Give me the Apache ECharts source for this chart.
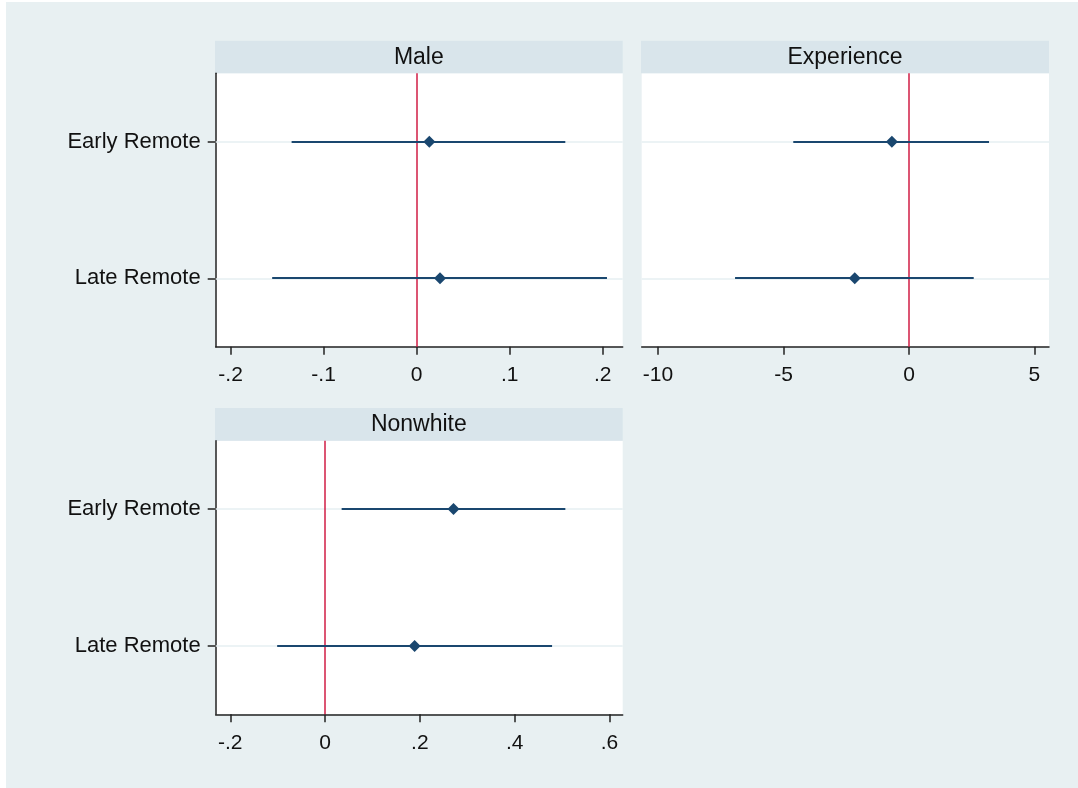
<!DOCTYPE html>
<html>
<head>
<meta charset="utf-8">
<script src="https://cdn.jsdelivr.net/npm/echarts@6/dist/echarts.min.js"></script>
<style>
  html, body { margin: 0; padding: 0; background: #ffffff; }
  #chart { position: absolute; left: 6px; top: 2px; width: 1072px; height: 786px; }
</style>
</head>
<body>
<div id="chart"></div>
<script>
// Coefficient plot: estimates with confidence intervals, by covariate
const categories = ['Early Remote', 'Late Remote'];
const rowPos = [1, 2];

const panelTitles = ['Male', 'Experience', 'Nonwhite'];

const maleEst = [0.0136, 0.0251];
const maleLo  = [-0.1344, -0.1553];
const maleHi  = [0.1598, 0.2046];

const expEst = [-0.68, -2.16];
const expLo  = [-4.61, -6.93];
const expHi  = [3.19, 2.58];

const nonwhiteEst = [0.271, 0.189];
const nonwhiteLo  = [0.035, -0.101];
const nonwhiteHi  = [0.507, 0.479];

const maleTicks = [-0.2, -0.1, 0, 0.1, 0.2];
const maleTickLabels = ['-.2', '-.1', '0', '.1', '.2'];
const expTicks = [-10, -5, 0, 5];
const expTickLabels = ['-10', '-5', '0', '5'];
const nonwhiteTicks = [-0.2, 0, 0.2, 0.4, 0.6];
const nonwhiteTickLabels = ['-.2', '0', '.2', '.4', '.6'];

const FONT = '"Liberation Sans", Arial, sans-serif';
const BAR = '#1a476f';
const REF = '#d01c45';
const AXIS = '#222222';

const panels = [
  { title: panelTitles[0], est: maleEst, lo: maleLo, hi: maleHi, ticks: maleTicks, labels: maleTickLabels,
    range: [-0.216, 0.2215], grid: { left: 209.7, top: 71.3, width: 407, height: 273.4 }, yAxisLine: true },
  { title: panelTitles[1], est: expEst, lo: expLo, hi: expHi, ticks: expTicks, labels: expTickLabels,
    range: [-10.65, 5.58], grid: { left: 635.7, top: 71.3, width: 407.3, height: 273.4 }, yAxisLine: false },
  { title: panelTitles[2], est: nonwhiteEst, lo: nonwhiteLo, hi: nonwhiteHi, ticks: nonwhiteTicks, labels: nonwhiteTickLabels,
    range: [-0.2307, 0.628], grid: { left: 209.7, top: 438.7, width: 407, height: 273.6 }, yAxisLine: true }
];

function labelFor(ticks, labels) {
  return function (v) {
    for (let i = 0; i < ticks.length; i++) {
      if (Math.abs(ticks[i] - v) < 1e-9) return labels[i];
    }
    return '';
  };
}

const grids = [], xAxes = [], yAxes = [], series = [], graphics = [];

panels.forEach(function (p, i) {
  grids.push(Object.assign({ show: true, backgroundColor: '#ffffff', borderWidth: 0, containLabel: false }, p.grid));

  xAxes.push({
    type: 'value', gridIndex: i, min: p.range[0], max: p.range[1],
    axisLine: { show: true, onZero: false, lineStyle: { color: AXIS, width: 1.5 } },
    axisTick: { show: true, length: 8, customValues: p.ticks, lineStyle: { color: AXIS, width: 1.5 } },
    axisLabel: { show: true, customValues: p.ticks, formatter: labelFor(p.ticks, p.labels),
      fontFamily: FONT, fontSize: 21, color: '#111111', margin: 18 },
    splitLine: { show: false }
  });

  yAxes.push({
    type: 'value', gridIndex: i, min: 0.5, max: 2.5, inverse: true,
    axisLine: { show: p.yAxisLine, onZero: false, lineStyle: { color: AXIS, width: 1.5 } },
    axisTick: { show: p.yAxisLine, length: 8, customValues: rowPos, lineStyle: { color: AXIS, width: 1.5 } },
    axisLabel: { show: p.yAxisLine, customValues: rowPos, formatter: labelFor(rowPos, categories),
      fontFamily: FONT, fontSize: 22, color: '#111111', margin: 15 },
    splitLine: { show: false }
  });

  // light row guides and the zero reference line (kept beneath the intervals)
  series.push({
    type: 'line', xAxisIndex: i, yAxisIndex: i, data: [], silent: true, z: 1,
    markLine: {
      silent: true, symbol: 'none', label: { show: false }, animation: false, z: 1,
      data: [
        { yAxis: rowPos[0], lineStyle: { color: '#e6eff2', width: 1.5, type: 'solid' } },
        { yAxis: rowPos[1], lineStyle: { color: '#e6eff2', width: 1.5, type: 'solid' } },
        { xAxis: 0, lineStyle: { color: REF, width: 1.5, type: 'solid' } }
      ]
    }
  });

  // confidence intervals
  series.push({
    type: 'custom', xAxisIndex: i, yAxisIndex: i, z: 10, animation: false,
    data: p.lo.map(function (lo, k) { return [lo, p.hi[k], rowPos[k]]; }),
    encode: { x: [0, 1], y: 2 },
    renderItem: function (params, api) {
      const a = api.coord([api.value(0), api.value(2)]);
      const b = api.coord([api.value(1), api.value(2)]);
      const y = Math.round(a[1]);
      return { type: 'line', shape: { x1: a[0], y1: y, x2: b[0], y2: y },
        style: { stroke: BAR, lineWidth: 2 } };
    }
  });

  // point estimates
  series.push({
    type: 'scatter', xAxisIndex: i, yAxisIndex: i, z: 11, animation: false,
    symbol: 'diamond', symbolSize: 12,
    itemStyle: { color: BAR, opacity: 1 },
    data: p.est.map(function (e, k) { return [e, rowPos[k]]; })
  });

  // panel header strip
  const g = p.grid;
  graphics.push({
    type: 'group', left: g.left - 0.7, top: g.top - 32.6,
    children: [
      { type: 'rect', shape: { x: 0, y: 0, width: g.width + 0.7, height: 32.6 }, style: { fill: '#d9e5eb' } },
      { type: 'text', x: (g.width + 0.7) / 2, y: 16.8,
        style: { text: p.title, font: '23px ' + FONT, fill: '#111111', align: 'center', verticalAlign: 'middle' } }
    ]
  });
});

const chart = echarts.init(document.getElementById('chart'), null, { renderer: 'canvas' });
chart.setOption({
  backgroundColor: '#e8f0f2',
  animation: false,
  grid: grids,
  xAxis: xAxes,
  yAxis: yAxes,
  series: series,
  graphic: graphics
});
</script>
</body>
</html>
